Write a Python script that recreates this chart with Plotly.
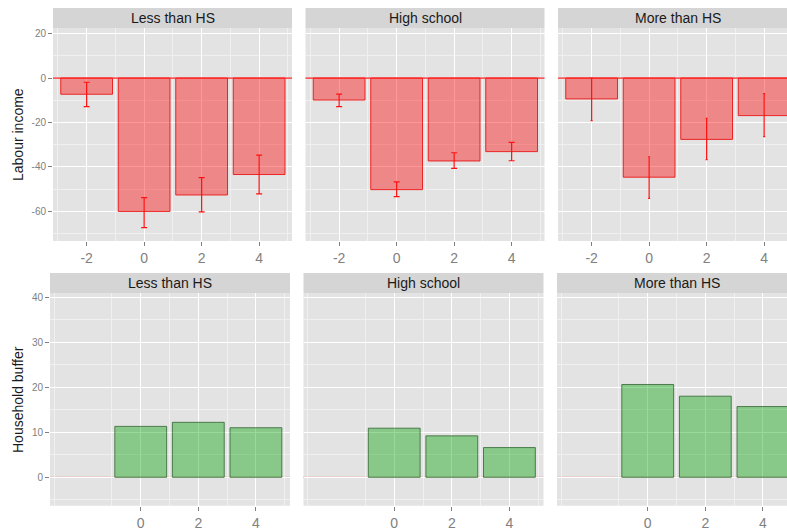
import plotly.graph_objects as go

# ---------------- data ----------------
groups = ["Less than HS", "High school", "More than HS"]
periods_top = [-2, 0, 2, 4]
periods_bottom = [0, 2, 4]

labour_less = [-7.3, -60.0, -52.6, -43.4]
labour_less_lo = [-12.9, -67.3, -60.2, -52.1]
labour_less_hi = [-1.9, -53.8, -44.8, -34.7]

labour_hs = [-9.9, -50.2, -37.3, -33.1]
labour_hs_lo = [-12.9, -53.3, -40.6, -37.2]
labour_hs_hi = [-7.2, -46.7, -33.6, -28.9]

labour_more = [-9.4, -44.6, -27.6, -16.9]
labour_more_lo = [-19.2, -54.1, -36.7, -26.4]
labour_more_hi = [0.0, -35.4, -18.1, -7.0]

buffer_less = [11.3, 12.2, 11.0]
buffer_hs = [10.9, 9.2, 6.6]
buffer_more = [20.6, 18.0, 15.7]

reference_level = 0

top_ticks = [-2, 0, 2, 4]
bottom_ticks = [0, 2, 4]
top_yticks = [20, 0, -20, -40, -60]
bottom_yticks = [0, 10, 20, 30, 40]

# ---------------- layout helpers ----------------
W, H = 787, 532
PANEL_BG = "#E3E3E3"
STRIP_BG = "#D5D5D5"
FONT = "Liberation Sans, Arial, sans-serif"
TICK_GREY = "#808080"


def px_x(x):
    return x / W


def px_y(y):
    return 1 - y / H


top_x_boxes = [(53, 292), (305.5, 544.5), (558, 787)]
bot_x_boxes = [(50, 290), (303.5, 543.5), (557, 787)]
top_y_box = (28, 241)
bot_y_box = (293, 505.7)
top_strip = (8, 28)
bot_strip = (273, 293)

top_ppu = 28.75
bot_ppu = 28.8
top_xmin = -3.17
bot_xmin = -3.15
top_yrange = [-73.3, 22.5]
bot_yrange = [-6.3, 40.9]

fig = go.Figure()

labour_vals = [labour_less, labour_hs, labour_more]
labour_lo = [labour_less_lo, labour_hs_lo, labour_more_lo]
labour_hi = [labour_less_hi, labour_hs_hi, labour_more_hi]
buffer_vals = [buffer_less, buffer_hs, buffer_more]
cap_widths = [3, 3, 1]

layout = {}
shapes = []
annotations = []

for i in range(3):
    # ---- top row ----
    n = i + 1
    xa = "x" if n == 1 else f"x{n}"
    ya = "y" if n == 1 else f"y{n}"
    vals = labour_vals[i]
    plus = [h - v for h, v in zip(labour_hi[i], vals)]
    minus = [v - l for v, l in zip(vals, labour_lo[i])]
    fig.add_trace(go.Bar(
        x=periods_top, y=vals, width=1.8, xaxis=xa, yaxis=ya,
        marker=dict(color="rgba(255,0,0,0.4)", line=dict(color="rgba(235,20,20,0.9)", width=1)),
        error_y=dict(type="data", array=plus, arrayminus=minus, color="#FF1010",
                     thickness=1.2, width=cap_widths[i]),
        showlegend=False, hoverinfo="x+y"))

    x0, x1 = top_x_boxes[i]
    xr = [top_xmin, top_xmin + (x1 - x0) / top_ppu]
    layout["xaxis" if n == 1 else f"xaxis{n}"] = dict(
        domain=[px_x(x0), px_x(x1)], range=xr, anchor=ya,
        tickmode="array", tickvals=top_ticks, ticktext=[str(t) for t in top_ticks],
        ticks="outside", ticklen=4, tickcolor=TICK_GREY, tickwidth=1,
        tickfont=dict(size=14, color=TICK_GREY, family=FONT),
        showgrid=True, gridcolor="white", gridwidth=1.2,
        minor=dict(showgrid=True, gridcolor="#F0F0F0", gridwidth=0.6, tick0=1, dtick=2),
        zeroline=False, showline=False, fixedrange=True)
    layout["yaxis" if n == 1 else f"yaxis{n}"] = dict(
        domain=[px_y(top_y_box[1]), px_y(top_y_box[0])], range=top_yrange, anchor=xa,
        tickmode="array", tickvals=top_yticks, ticktext=[str(t) for t in top_yticks],
        ticks="outside" if n == 1 else "", ticklen=4, tickcolor=TICK_GREY,
        showticklabels=(n == 1),
        tickfont=dict(size=10, color=TICK_GREY, family=FONT),
        showgrid=True, gridcolor="white", gridwidth=1.2,
        minor=dict(showgrid=True, gridcolor="#F0F0F0", gridwidth=0.6, tick0=10, dtick=20),
        zeroline=False, showline=False, fixedrange=True)
    # reference line at zero (top row, red)
    shapes.append(dict(type="line", xref=f"{xa} domain", yref=ya, x0=0, x1=1,
                       y0=reference_level, y1=reference_level,
                       line=dict(color="#FF2020", width=1.2), layer="above"))
    shapes.append(dict(type="rect", xref="paper", yref="paper",
                       x0=px_x(x0), x1=px_x(x1), y0=px_y(top_strip[1]), y1=px_y(top_strip[0]),
                       fillcolor=STRIP_BG, line=dict(width=0), layer="below"))
    annotations.append(dict(text=groups[i], xref="paper", yref="paper",
                            x=px_x((x0 + x0 + (top_x_boxes[0][1] - top_x_boxes[0][0])) / 2),
                            y=px_y((top_strip[0] + top_strip[1]) / 2),
                            showarrow=False, xanchor="center", yanchor="middle",
                            font=dict(size=14, color="#1A1A1A", family=FONT)))

    # ---- bottom row ----
    m = i + 4
    xb = f"x{m}"
    yb = f"y{m}"
    fig.add_trace(go.Bar(
        x=periods_bottom, y=buffer_vals[i], width=1.8, xaxis=xb, yaxis=yb,
        marker=dict(color="rgba(0,160,0,0.4)", line=dict(color="rgba(50,100,50,0.8)", width=1)),
        showlegend=False, hoverinfo="x+y"))
    x0, x1 = bot_x_boxes[i]
    xr = [bot_xmin, bot_xmin + (x1 - x0) / bot_ppu]
    layout[f"xaxis{m}"] = dict(
        domain=[px_x(x0), px_x(x1)], range=xr, anchor=yb,
        tickmode="array", tickvals=bottom_ticks, ticktext=[str(t) for t in bottom_ticks],
        ticks="outside", ticklen=4, tickcolor=TICK_GREY, tickwidth=1,
        tickfont=dict(size=14, color=TICK_GREY, family=FONT),
        showgrid=True, gridcolor="white", gridwidth=1.2,
        minor=dict(showgrid=True, gridcolor="#F0F0F0", gridwidth=0.6, tick0=1, dtick=2),
        zeroline=False, showline=False, fixedrange=True)
    layout[f"yaxis{m}"] = dict(
        domain=[px_y(bot_y_box[1]), px_y(bot_y_box[0])], range=bot_yrange, anchor=xb,
        tickmode="array", tickvals=bottom_yticks, ticktext=[str(t) for t in bottom_yticks],
        ticks="outside" if m == 4 else "", ticklen=4, tickcolor=TICK_GREY,
        showticklabels=(m == 4),
        tickfont=dict(size=10, color=TICK_GREY, family=FONT),
        showgrid=True, gridcolor="white", gridwidth=1.2,
        minor=dict(showgrid=True, gridcolor="#F0F0F0", gridwidth=0.6, tick0=5, dtick=10),
        zeroline=False, showline=False, fixedrange=True)
    # reference line at zero (bottom row, light salmon)
    shapes.append(dict(type="line", xref=f"{xb} domain", yref=yb, x0=0, x1=1,
                       y0=reference_level, y1=reference_level,
                       line=dict(color="#F28A84", width=1.1), layer="below"))
    shapes.append(dict(type="rect", xref="paper", yref="paper",
                       x0=px_x(x0), x1=px_x(x1), y0=px_y(bot_strip[1]), y1=px_y(bot_strip[0]),
                       fillcolor=STRIP_BG, line=dict(width=0), layer="below"))
    annotations.append(dict(text=groups[i], xref="paper", yref="paper",
                            x=px_x((x0 + x0 + (bot_x_boxes[0][1] - bot_x_boxes[0][0])) / 2),
                            y=px_y((bot_strip[0] + bot_strip[1]) / 2),
                            showarrow=False, xanchor="center", yanchor="middle",
                            font=dict(size=14, color="#1A1A1A", family=FONT)))

# panel backgrounds (drawn first so they sit beneath the grid)
bg_shapes = []
for (x0, x1) in top_x_boxes:
    bg_shapes.append(dict(type="rect", xref="paper", yref="paper",
                          x0=px_x(x0), x1=px_x(x1), y0=px_y(top_y_box[1]), y1=px_y(top_y_box[0]),
                          fillcolor=PANEL_BG, line=dict(width=0), layer="below"))
for (x0, x1) in bot_x_boxes:
    bg_shapes.append(dict(type="rect", xref="paper", yref="paper",
                          x0=px_x(x0), x1=px_x(x1), y0=px_y(bot_y_box[1]), y1=px_y(bot_y_box[0]),
                          fillcolor=PANEL_BG, line=dict(width=0), layer="below"))
shapes = bg_shapes + shapes

annotations.append(dict(text="Labour income", xref="paper", yref="paper",
                        x=px_x(18), y=px_y(135), textangle=-90, showarrow=False,
                        xanchor="center", yanchor="middle",
                        font=dict(size=14, color="#1A1A1A", family=FONT)))
annotations.append(dict(text="Household buffer", xref="paper", yref="paper",
                        x=px_x(18), y=px_y(400), textangle=-90, showarrow=False,
                        xanchor="center", yanchor="middle",
                        font=dict(size=14, color="#1A1A1A", family=FONT)))

fig.update_layout(
    width=W, height=H, margin=dict(l=0, r=0, t=0, b=0),
    paper_bgcolor="white", plot_bgcolor="rgba(0,0,0,0)",
    barmode="overlay", shapes=shapes, annotations=annotations,
    font=dict(family=FONT), **layout)

fig.write_html("out.html", config={"displayModeBar": False})

# remove the browser's default 8px body margin so the figure sits at the page origin
with open("out.html", "r", encoding="utf-8") as fh:
    html = fh.read()
html = html.replace("<body>", '<body style="margin:0;padding:0;overflow:hidden">', 1)
with open("out.html", "w", encoding="utf-8") as fh:
    fh.write(html)
